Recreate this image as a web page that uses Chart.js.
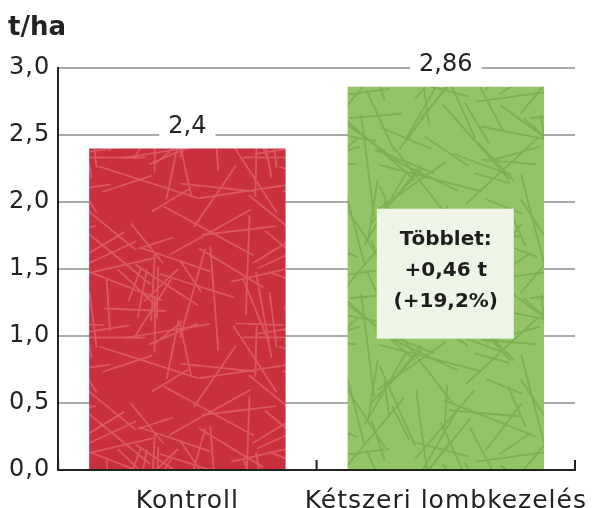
<!DOCTYPE html>
<html>
<head>
<meta charset="utf-8">
<script src="https://cdn.jsdelivr.net/npm/chart.js@4.4.1/dist/chart.umd.min.js"></script>
<style>
  html, body { margin: 0; padding: 0; background: #fff; }
  #wrap { position: relative; width: 597px; height: 508px; }
</style>
</head>
<body>
<div id="wrap"><canvas id="c"></canvas></div>
<script>
const categories = ['Kontroll', 'Kétszeri lombkezelés']
const yields = [2.4, 2.86]
const valueLabels = ['2,4', '2,86']
const barColors = ['#c8303c', '#93c466']
const strokeColors = ['#da5861', '#7db052']
const unitTitle = 't/ha'
const surplusLines = ['Többlet:', '+0,46 t', '(+19,2%)']

const FONT = "'DejaVu Sans', sans-serif"

// seeded generator, only for the scribbled texture inside the bars
function rng (seed) {
  let s = seed
  return () => {
    s = (s * 16807) % 2147483647
    return (s - 1) / 2147483646
  }
}

function texture (base, line, seed) {
  const c = document.createElement('canvas')
  c.width = 180
  c.height = 180
  const g = c.getContext('2d')
  g.fillStyle = base
  g.fillRect(0, 0, 180, 180)
  g.strokeStyle = line
  g.lineWidth = 1.8
  const r = rng(seed)
  for (let i = 0; i < 48; i++) {
    const x = r() * 180, y = r() * 180
    const a = r() * Math.PI, len = 35 + r() * 70
    for (const dx of [-180, 0, 180]) {
      for (const dy of [-180, 0, 180]) {
        g.beginPath()
        g.moveTo(x + dx, y + dy)
        g.lineTo(x + dx + Math.cos(a) * len, y + dy + Math.sin(a) * len)
        g.stroke()
      }
    }
  }
  return g.createPattern(c, 'repeat')
}

const extras = {
  id: 'extras',
  beforeDraw (chart) {
    chart.ctx.letterSpacing = '1px'
  },
  afterDraw (chart) {
    const { ctx, scales: { x, y } } = chart
    ctx.save()
    ctx.letterSpacing = '0px'
    // title
    ctx.fillStyle = '#222'
    ctx.font = "bold 26px " + FONT
    ctx.textBaseline = 'alphabetic'
    ctx.textAlign = 'left'
    ctx.fillText(unitTitle, 8, 35)

    // tick marks on the x axis at category edges
    ctx.strokeStyle = '#222'
    ctx.lineWidth = 2
    const edges = [x.left, (x.getPixelForValue(0) + x.getPixelForValue(1)) / 2, x.right]
    edges.forEach(px => {
      ctx.beginPath()
      ctx.moveTo(px, y.bottom)
      ctx.lineTo(px, y.bottom - 10)
      ctx.stroke()
    })

    // value labels sitting on the gridline above each bar
    ctx.font = "24px " + FONT
    ctx.textAlign = 'center'
    ctx.textBaseline = 'middle'
    const meta = chart.getDatasetMeta(0)
    meta.data.forEach((bar, i) => {
      const ly = bar.y - 22
      const w = ctx.measureText(valueLabels[i]).width + 18
      ctx.fillStyle = '#fff'
      ctx.fillRect(bar.x - w / 2, ly - 15, w, 30)
      ctx.fillStyle = '#222'
      ctx.fillText(valueLabels[i], bar.x, ly)
    })

    // surplus box in the second bar
    const b = meta.data[1]
    const bx = b.x - 69, by = y.getPixelForValue(1.95), bw = 137, bh = y.getPixelForValue(0.98) - by
    ctx.fillStyle = '#eef5e7'
    ctx.fillRect(bx, by, bw, bh)
    ctx.fillStyle = '#1e1e1e'
    ctx.font = "bold 20px " + FONT
    const cy = by + bh / 2
    surplusLines.forEach((t, i) => ctx.fillText(t, b.x, cy + (i - 1) * 31 - 3))
    ctx.restore()
  }
}

const canvas = document.getElementById('c')
const pats = [texture(barColors[0], strokeColors[0], 11), texture(barColors[1], strokeColors[1], 29)]

new Chart(canvas, {
  type: 'bar',
  data: {
    labels: categories,
    datasets: [{
      data: yields,
      backgroundColor: pats,
      borderWidth: 0,
      barPercentage: 0.76,
      categoryPercentage: 1
    }]
  },
  options: {
    responsive: true,
    maintainAspectRatio: false,
    animation: false,
    layout: { padding: { top: 68, right: 22, left: 4, bottom: 0 } },
    plugins: { legend: { display: false }, tooltip: { enabled: false } },
    scales: {
      x: {
        grid: { display: false },
        border: { display: true, color: '#222', width: 2 },
        ticks: { color: '#222', font: { family: FONT, size: 25 }, padding: 8, maxRotation: 0, minRotation: 0, autoSkip: false },
        afterFit (scale) { scale.height = 38 }
      },
      y: {
        min: 0,
        max: 3,
        ticks: {
          stepSize: 0.5,
          color: '#222',
          padding: 8,
          font: { family: FONT, size: 24 },
          callback: v => v.toFixed(1).replace('.', ',')
        },
        grid: { color: '#aaa', lineWidth: 2, drawTicks: false },
        border: { display: true, color: '#222', width: 2 }
      }
    }
  },
  plugins: [extras]
})
</script>
</body>
</html>
